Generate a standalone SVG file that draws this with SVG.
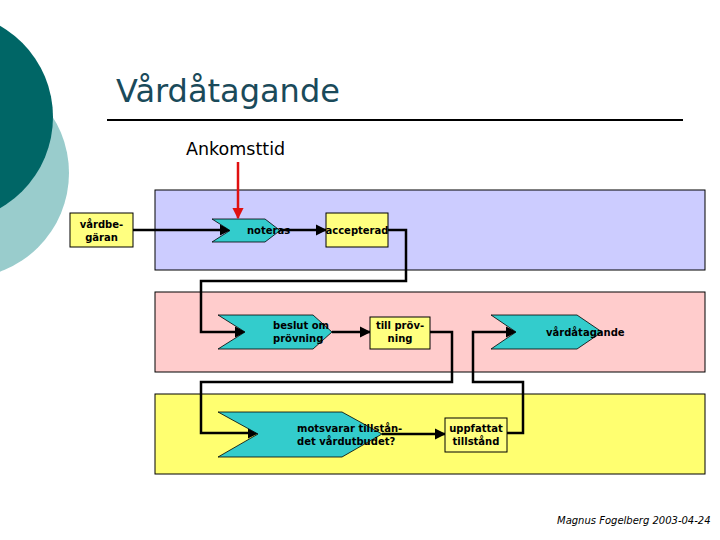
<svg xmlns="http://www.w3.org/2000/svg" width="720" height="540" viewBox="0 0 720 540">
<defs>
<style>
.lane{stroke:#000;stroke-width:1}
.chev{fill:#33cccc;stroke:#000;stroke-width:0.8}
.box{fill:#ffff80;stroke:#000;stroke-width:1}
.t{font-family:"DejaVu Sans",Verdana,sans-serif;font-size:10px;font-weight:bold;fill:#000}
.c{fill:none;stroke:#000;stroke-width:2.5}
</style>
<marker id="ah" viewBox="0 0 10 10" refX="9" refY="5" markerWidth="4.5" markerHeight="4.5" orient="auto" markerUnits="strokeWidth">
<path d="M0,0 L10,5 L0,10 z" fill="#000"/>
</marker>
<marker id="ahr" viewBox="0 0 10 10" refX="9" refY="5" markerWidth="4.5" markerHeight="4.5" orient="auto" markerUnits="strokeWidth">
<path d="M0,0 L10,5 L0,10 z" fill="#e01010"/>
</marker>
</defs>
<rect width="720" height="540" fill="#fff"/>
<circle cx="-36" cy="173" r="105" fill="#99cccc"/>
<circle cx="-52" cy="117" r="105" fill="#006666"/>
<text x="116" y="102" font-family="DejaVu Sans,Verdana,sans-serif" font-size="32" fill="#1a4a5a">Vårdåtagande</text>
<line x1="107" y1="120" x2="683" y2="120" stroke="#000" stroke-width="2"/>
<text x="186" y="155" font-family="DejaVu Sans,Verdana,sans-serif" font-size="17.5" fill="#000">Ankomsttid</text>
<g id="lanes">
<rect class="lane" x="155" y="190" width="550" height="80" fill="#ccccff"/>
<rect class="lane" x="155" y="292" width="550" height="80" fill="#ffcccc"/>
<rect class="lane" x="155" y="394" width="550" height="80" fill="#ffff70"/>
</g>
<g id="connectors">
<line x1="238" y1="162" x2="238" y2="218" stroke="#e01010" stroke-width="2.5" marker-end="url(#ahr)"/>
<path class="c" d="M133,230 H230" marker-end="url(#ah)"/>
<path class="c" d="M280,230 H326" marker-end="url(#ah)"/>
<path class="c" d="M388,230 H406 V281 H201 V332 H245" marker-end="url(#ah)"/>
<path class="c" d="M332,332 H370" marker-end="url(#ah)"/>
<path class="c" d="M430,332 H452 V382 H201 V433 H258" marker-end="url(#ah)"/>
<path class="c" d="M382,434 H445" marker-end="url(#ah)"/>
<path class="c" d="M507,433 H523 V382 H473 V332 H516" marker-end="url(#ah)"/>
</g>
<g id="vardbegaran">
<rect class="box" x="70" y="213" width="63" height="34"/>
<text class="t" x="101.5" y="228" text-anchor="middle">vårdbe-</text>
<text class="t" x="101.5" y="241" text-anchor="middle">gäran</text>
</g>
<g id="noteras">
<polygon class="chev" points="212,219 265,219 280,230.5 265,242 212,242 230,230.5"/>
<text class="t" x="247" y="234">noteras</text>
</g>
<g id="accepterad">
<rect class="box" x="326" y="213" width="62" height="34"/>
<text class="t" x="357" y="234" text-anchor="middle">accepterad</text>
</g>
<g id="beslut">
<polygon class="chev" points="218,315 313,315 332,332 313,349 218,349 245,332"/>
<text class="t" x="273" y="329">beslut om</text>
<text class="t" x="273" y="342">prövning</text>
</g>
<g id="tillprovning">
<rect class="box" x="370" y="317" width="60" height="32"/>
<text class="t" x="400" y="329" text-anchor="middle">till pröv-</text>
<text class="t" x="400" y="342" text-anchor="middle">ning</text>
</g>
<g id="vardatagande">
<polygon class="chev" points="491,315 577,315 602,332 577,349 491,349 516,332"/>
<text class="t" x="546" y="336">vårdåtagande</text>
</g>
<g id="motsvarar">
<polygon class="chev" points="218,412 342,412 382,434 342,457 218,457 258,434"/>
<text class="t" x="297" y="432">motsvarar tillstån-</text>
<text class="t" x="297" y="445">det vårdutbudet?</text>
</g>
<g id="uppfattat">
<rect class="box" x="445" y="418" width="62" height="34"/>
<text class="t" x="476" y="432" text-anchor="middle">uppfattat</text>
<text class="t" x="476" y="445" text-anchor="middle">tillstånd</text>
</g>
<text x="557" y="524" font-family="DejaVu Sans,Verdana,sans-serif" font-size="10" font-style="italic" fill="#000">Magnus Fogelberg 2003-04-24</text>
</svg>
